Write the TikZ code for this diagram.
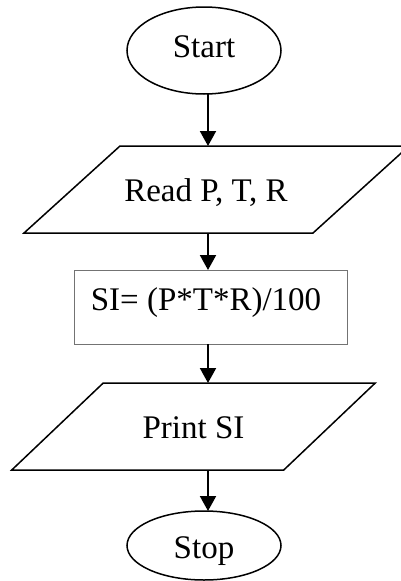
\documentclass[tikz,border=0pt]{standalone}
\usepackage{fontspec}
\setmainfont{Liberation Serif}
\usetikzlibrary{shapes.geometric,arrows.meta}
\begin{document}
\begin{tikzpicture}[x=1pt,y=-1pt,
  every node/.style={font=\fontsize{33}{40}\selectfont, inner sep=0pt, outer sep=0pt},
  term/.style={ellipse, draw, line width=1.5pt, minimum width=154pt},
  iobox/.style={rectangle, minimum height=87pt},
  ioline/.style={line width=1.5pt, line join=miter},
  proc/.style={rectangle, draw=black!55, line width=0.9pt},
  arr/.style={line width=2pt, -{Triangle[length=15pt,width=16pt]}}]
\useasboundingbox (0,0) rectangle (401,581);
\clip (0,0) rectangle (401,581);
\coordinate (ax) at (208,0);
\node[term, minimum height=87pt, text height=13pt, text depth=0pt] (start) at (204,50.5) {Start};
\node[iobox, minimum width=289pt, text height=24pt, text depth=0pt] (read) at (216.5,189.5) {Read P, T, R\rule{21pt}{0pt}};
\draw[ioline] ([xshift=48pt]read.north west) -- ([xshift=48pt]read.north east) -- ([xshift=-48pt]read.south east) -- ([xshift=-48pt]read.south west) -- cycle;
\node[proc, minimum width=273pt, minimum height=74pt, text height=6pt, text depth=0pt] (calc) at (210.5,307) {SI= (P*T*R)/100\rule{9pt}{0pt}};
\node[iobox, minimum width=272pt, text height=23pt, text depth=0pt] (print) at (193.5,426.5) {Print SI};
\draw[ioline] ([xshift=45.75pt]print.north west) -- ([xshift=45.75pt]print.north east) -- ([xshift=-45.75pt]print.south east) -- ([xshift=-45.75pt]print.south west) -- cycle;
\node[term, minimum height=69pt, text height=25pt, text depth=0pt] (stop) at (204,545.5) {Stop};
\draw[arr] (start.south -| ax) -- (read.north -| ax);
\draw[arr] (read.south -| ax) -- (calc.north -| ax);
\draw[arr] (calc.south -| ax) -- (print.north -| ax);
\draw[arr] (print.south -| ax) -- (stop.north -| ax);
\end{tikzpicture}
\end{document}
